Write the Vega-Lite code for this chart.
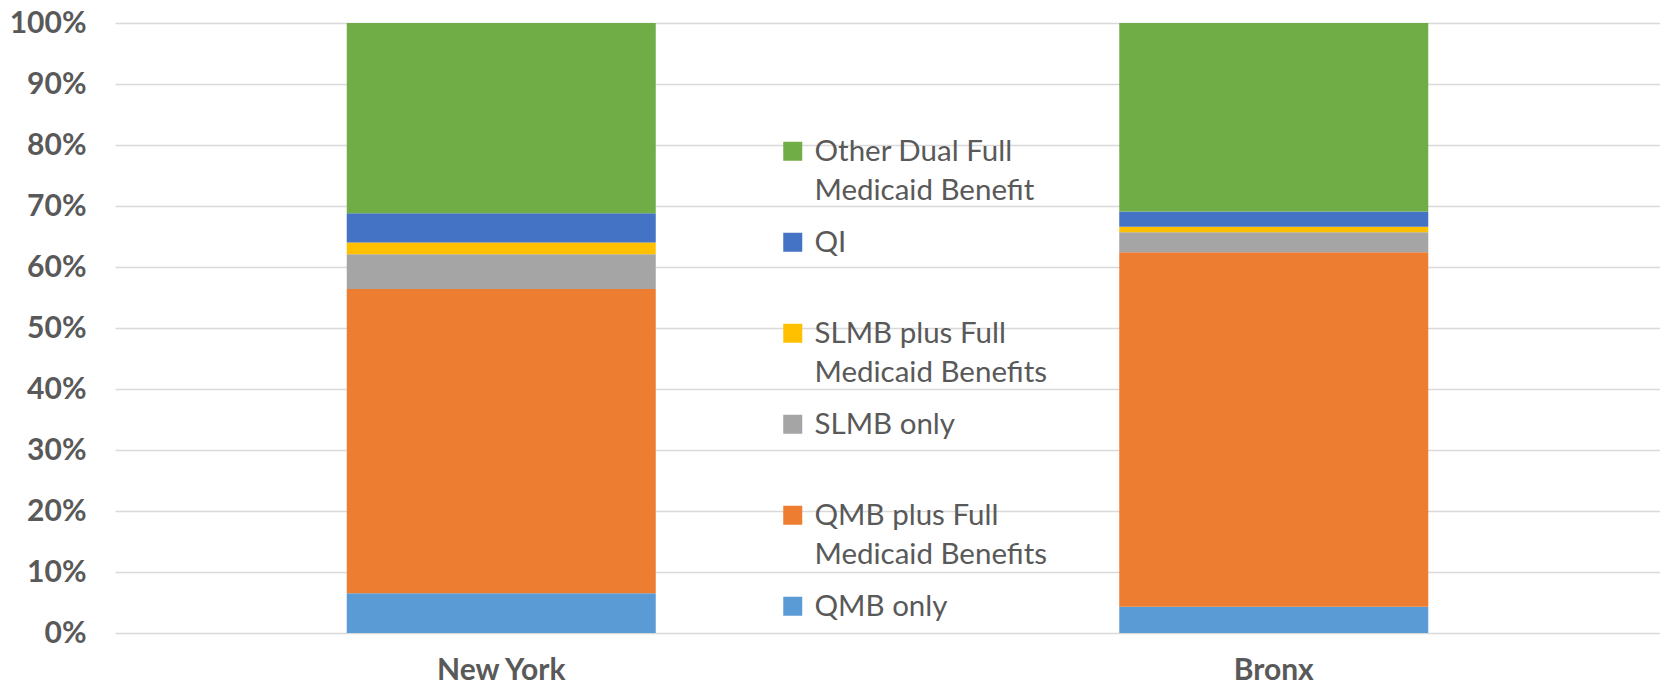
{
  "$schema": "https://vega.github.io/schema/vega-lite/v6.json",
  "width": 1545,
  "height": 610,
  "autosize": {"type": "none"},
  "padding": {"left": 115, "top": 23, "right": 0, "bottom": 53},
  "background": "white",
  "config": {"view": {"stroke": null}},
  "data": {
    "values": [
      {"county": "New York", "category": "QMB only", "pct": 6.5},
      {"county": "New York", "category": "QMB plus Full Medicaid Benefits", "pct": 49.9},
      {"county": "New York", "category": "SLMB only", "pct": 5.7},
      {"county": "New York", "category": "SLMB plus Full Medicaid Benefits", "pct": 1.9},
      {"county": "New York", "category": "QI", "pct": 4.8},
      {"county": "New York", "category": "Other Dual Full Medicaid Benefit", "pct": 31.2},
      {"county": "Bronx", "category": "QMB only", "pct": 4.3},
      {"county": "Bronx", "category": "QMB plus Full Medicaid Benefits", "pct": 58.1},
      {"county": "Bronx", "category": "SLMB only", "pct": 3.3},
      {"county": "Bronx", "category": "SLMB plus Full Medicaid Benefits", "pct": 0.9},
      {"county": "Bronx", "category": "QI", "pct": 2.5},
      {"county": "Bronx", "category": "Other Dual Full Medicaid Benefit", "pct": 30.9}
    ]
  },
  "transform": [
    {"calculate": "indexof(['QMB only','QMB plus Full Medicaid Benefits','SLMB only','SLMB plus Full Medicaid Benefits','QI','Other Dual Full Medicaid Benefit'], datum.category)", "as": "stackOrder"}
  ],
  "mark": {"type": "bar"},
  "encoding": {
    "x": {
      "field": "county", "type": "nominal", "sort": ["New York", "Bronx"],
      "scale": {"paddingInner": 0.6, "paddingOuter": 0.3},
      "axis": {"title": null, "labelAngle": 0, "domain": false, "ticks": false, "grid": false,
        "labelPadding": 22, "labelFont": "Lato", "labelFontSize": 30, "labelFontWeight": "bold", "labelColor": "#595959"}
    },
    "y": {
      "field": "pct", "type": "quantitative", "stack": "normalize",
      "scale": {"domain": [0, 1]},
      "axis": {"title": null, "format": ".0%", "values": [0, 0.1, 0.2, 0.3, 0.4, 0.5, 0.6, 0.7, 0.8, 0.9, 1],
        "domain": false, "ticks": false, "labelPadding": 29, "labelFont": "Lato", "labelFontSize": 30,
        "labelFontWeight": "bold", "labelColor": "#595959", "gridColor": "#d9d9d9", "gridWidth": 1.5}
    },
    "color": {
      "field": "category", "type": "nominal",
      "scale": {
        "domain": ["Other Dual Full Medicaid Benefit", "QI", "SLMB plus Full Medicaid Benefits", "SLMB only", "QMB plus Full Medicaid Benefits", "QMB only"],
        "range": ["#70AD47", "#4472C4", "#FFC000", "#A5A5A5", "#ED7D31", "#5B9BD5"]
      },
      "legend": {
        "title": null, "orient": "none", "legendX": 663, "legendY": 123, "padding": 0,
        "symbolType": "M-1,-2H1V0H-1Z", "symbolSize": 361, "symbolStrokeWidth": 0, "symbolOpacity": 1,
        "labelFont": "Lato", "labelFontSize": 29.5, "labelColor": "#595959", "labelBaseline": "alphabetic",
        "labelOffset": 7, "labelLimit": 400, "rowPadding": 21,
        "labelExpr": "indexof(datum.label, 'Medicaid') > 0 ? split(replace(datum.label, ' Medicaid', '|Medicaid'), '|') : [datum.label, '']",
        "encode": {"labels": {"update": {"lineHeight": {"value": 39}}}}
      }
    },
    "order": {"field": "stackOrder", "type": "quantitative"}
  }
}
